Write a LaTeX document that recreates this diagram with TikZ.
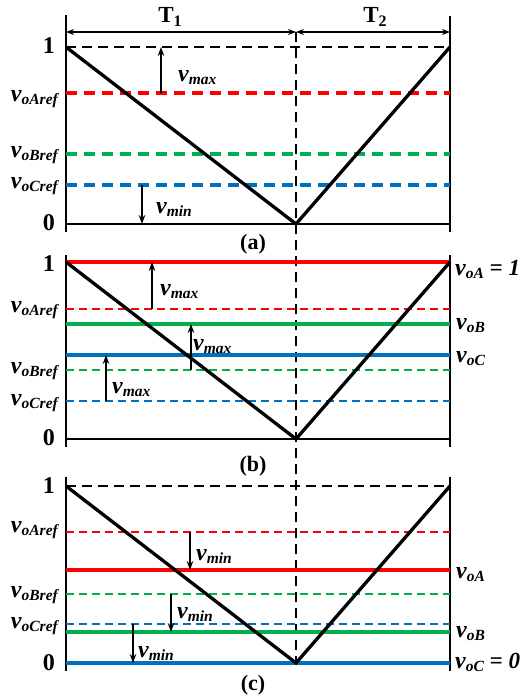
\documentclass[tikz,border=0pt]{standalone}
\usepackage{fontspec}
\setmainfont{Liberation Serif}
\usetikzlibrary{arrows.meta}
\definecolor{cred}{RGB}{255,0,0}
\definecolor{cgreen}{RGB}{0,176,80}
\definecolor{cblue}{RGB}{0,112,192}
\newcommand\vlab[1]{{\fontsize{24}{24}\selectfont\bfseries\itshape v}\raisebox{-3pt}{\fontsize{15.5}{15.5}\selectfont\bfseries\itshape #1}}
\newcommand\numlab[1]{{\fontsize{24}{24}\selectfont\bfseries #1}}
\newcommand\eqlab[1]{{\fontsize{23}{23}\selectfont\bfseries\itshape\ =\ #1}}
\tikzset{
  axis/.style={line width=2pt, black},
  tri/.style={line width=3.3pt, black, line join=miter},
  dim/.style={line width=1.4pt, {Stealth[length=8pt,width=6pt]}-{Stealth[length=8pt,width=6pt]}},
  vdash/.style={line width=1.6pt, dash pattern=on 10pt off 6pt},
  kdash/.style={line width=1.6pt, dash pattern=on 10pt off 6pt},
  thickdash/.style={line width=3.6pt, dash pattern=on 11pt off 7pt},
  thindash/.style={line width=1.6pt, dash pattern=on 8pt off 5pt},
  solidc/.style={line width=3.6pt},
  varr/.style={line width=1.6pt, -{Stealth[length=9pt,width=6.5pt]}},
  lft/.style={anchor=base east, inner sep=0pt},
  rgt/.style={anchor=base west, inner sep=0pt},
  vl/.style={anchor=base west, inner sep=0pt},
  caplab/.style={anchor=base, inner sep=0pt, font=\fontsize{22}{22}\selectfont\bfseries},
}
\begin{document}
\begin{tikzpicture}[x=1pt,y=-1pt]
\useasboundingbox (0,0) rectangle (523,696);

% ---------- top dimension arrows ----------
\coordinate (tl) at (66,32);
\coordinate (tm) at (296,32);
\coordinate (tr) at (450,32);
\coordinate (mb) at (296,663);
\draw[dim] (tl) -- (tm);
\draw[dim] (tm) -- (tr);
\node[anchor=base, inner sep=0pt] (T1) at (170,23) {\fontsize{23}{23}\selectfont\bfseries T\raisebox{-3pt}{\fontsize{16}{16}\selectfont 1}};
\node[anchor=base, inner sep=0pt] (T2) at (375,23) {\fontsize{23}{23}\selectfont\bfseries T\raisebox{-3pt}{\fontsize{16}{16}\selectfont 2}};
\draw[vdash] (tm) -- (mb);

% ================= panel (a) =================
\draw[axis] (66,15) -- (66,232);
\draw[axis] (450,16) -- (450,232);
\draw[axis] (66,224) -- (450,224);
\draw[kdash] (66,47) -- (450,47);
\draw[thickdash, cred] (66,93) -- (450,93);
\draw[thickdash, cgreen] (66,154) -- (450,154);
\draw[thickdash, cblue] (66,185) -- (450,185);
\draw[tri] (66,47) -- (296,224) -- (450,47);
\coordinate (a1s) at (161,93); \coordinate (a1e) at (161,47);
\coordinate (a2s) at (142,185); \coordinate (a2e) at (142,224);
\draw[varr] (a1s) -- (a1e);
\draw[varr] (a2s) -- (a2e);
\node[vl] (amax) at (178,81) {\vlab{max}};
\node[vl] (amin) at (156,213) {\vlab{min}};
\node[lft] (a1) at (55,53) {\numlab{1}};
\node[lft] (aA) at (58,101) {\vlab{oAref}};
\node[lft] (aB) at (58,157) {\vlab{oBref}};
\node[lft] (aC) at (58,188) {\vlab{oCref}};
\node[lft] (a0) at (55,230) {\numlab{0}};
\node[caplab] (capa) at (253,249) {(a)};

% ================= panel (b) =================
\draw[axis] (66,255) -- (66,447);
\draw[axis] (450,255) -- (450,447);
\draw[axis] (66,439) -- (450,439);
\draw[thindash, cred] (66,309) -- (450,309);
\draw[thindash, cgreen] (66,370) -- (450,370);
\draw[thindash, cblue] (66,401) -- (450,401);
\draw[solidc, cred] (66,262) -- (450,262);
\draw[solidc, cgreen] (66,324) -- (450,324);
\draw[solidc, cblue] (66,355) -- (450,355);
\draw[tri] (66,262) -- (296,439) -- (450,262);
\coordinate (b1s) at (152,309); \coordinate (b1e) at (152,262);
\coordinate (b2s) at (191,370); \coordinate (b2e) at (191,324);
\coordinate (b3s) at (106,401); \coordinate (b3e) at (106,355);
\draw[varr] (b1s) -- (b1e);
\draw[varr] (b2s) -- (b2e);
\draw[varr] (b3s) -- (b3e);
\node[vl] (bmax1) at (160,295) {\vlab{max}};
\node[vl] (bmax2) at (193,350) {\vlab{max}};
\node[vl] (bmax3) at (112,393) {\vlab{max}};
\node[lft] (b1) at (55,271) {\numlab{1}};
\node[lft] (bA) at (58,312) {\vlab{oAref}};
\node[lft] (bB) at (58,373) {\vlab{oBref}};
\node[lft] (bC) at (58,405) {\vlab{oCref}};
\node[lft] (b0) at (55,445) {\numlab{0}};
\node[rgt] (bvA) at (455,275) {\vlab{oA}\eqlab{1}};
\node[rgt] (bvB) at (456,329) {\vlab{oB}};
\node[rgt] (bvC) at (456,362) {\vlab{oC}};
\node[caplab] (capb) at (253,471) {(b)};

% ================= panel (c) =================
\draw[axis] (66,477) -- (66,671);
\draw[axis] (450,477) -- (450,671);
\draw[kdash] (66,486) -- (450,486);
\draw[thindash, cred] (66,532) -- (450,532);
\draw[thindash, cgreen] (66,594) -- (450,594);
\draw[thindash, cblue] (66,624) -- (450,624);
\draw[solidc, cred] (66,570) -- (450,570);
\draw[solidc, cgreen] (66,632) -- (450,632);
\draw[solidc, cblue] (66,663) -- (450,663);
\draw[tri] (66,486) -- (296,663) -- (450,486);
\coordinate (c1s) at (190,532); \coordinate (c1e) at (190,570);
\coordinate (c2s) at (171,594); \coordinate (c2e) at (171,632);
\coordinate (c3s) at (133,624); \coordinate (c3e) at (133,663);
\draw[varr] (c1s) -- (c1e);
\draw[varr] (c2s) -- (c2e);
\draw[varr] (c3s) -- (c3e);
\node[vl] (cmin1) at (196,560) {\vlab{min}};
\node[vl] (cmin2) at (177,618) {\vlab{min}};
\node[vl] (cmin3) at (138,657) {\vlab{min}};
\node[lft] (c1) at (55,493) {\numlab{1}};
\node[lft] (cA) at (58,532) {\vlab{oAref}};
\node[lft] (cB) at (58,597) {\vlab{oBref}};
\node[lft] (cC) at (58,628) {\vlab{oCref}};
\node[lft] (c0) at (55,670) {\numlab{0}};
\node[rgt] (cvA) at (456,578) {\vlab{oA}};
\node[rgt] (cvB) at (456,637) {\vlab{oB}};
\node[rgt] (cvC) at (455,668) {\vlab{oC}\eqlab{0}};
\node[caplab] (capc) at (253,690) {(c)};
\end{tikzpicture}
\end{document}
